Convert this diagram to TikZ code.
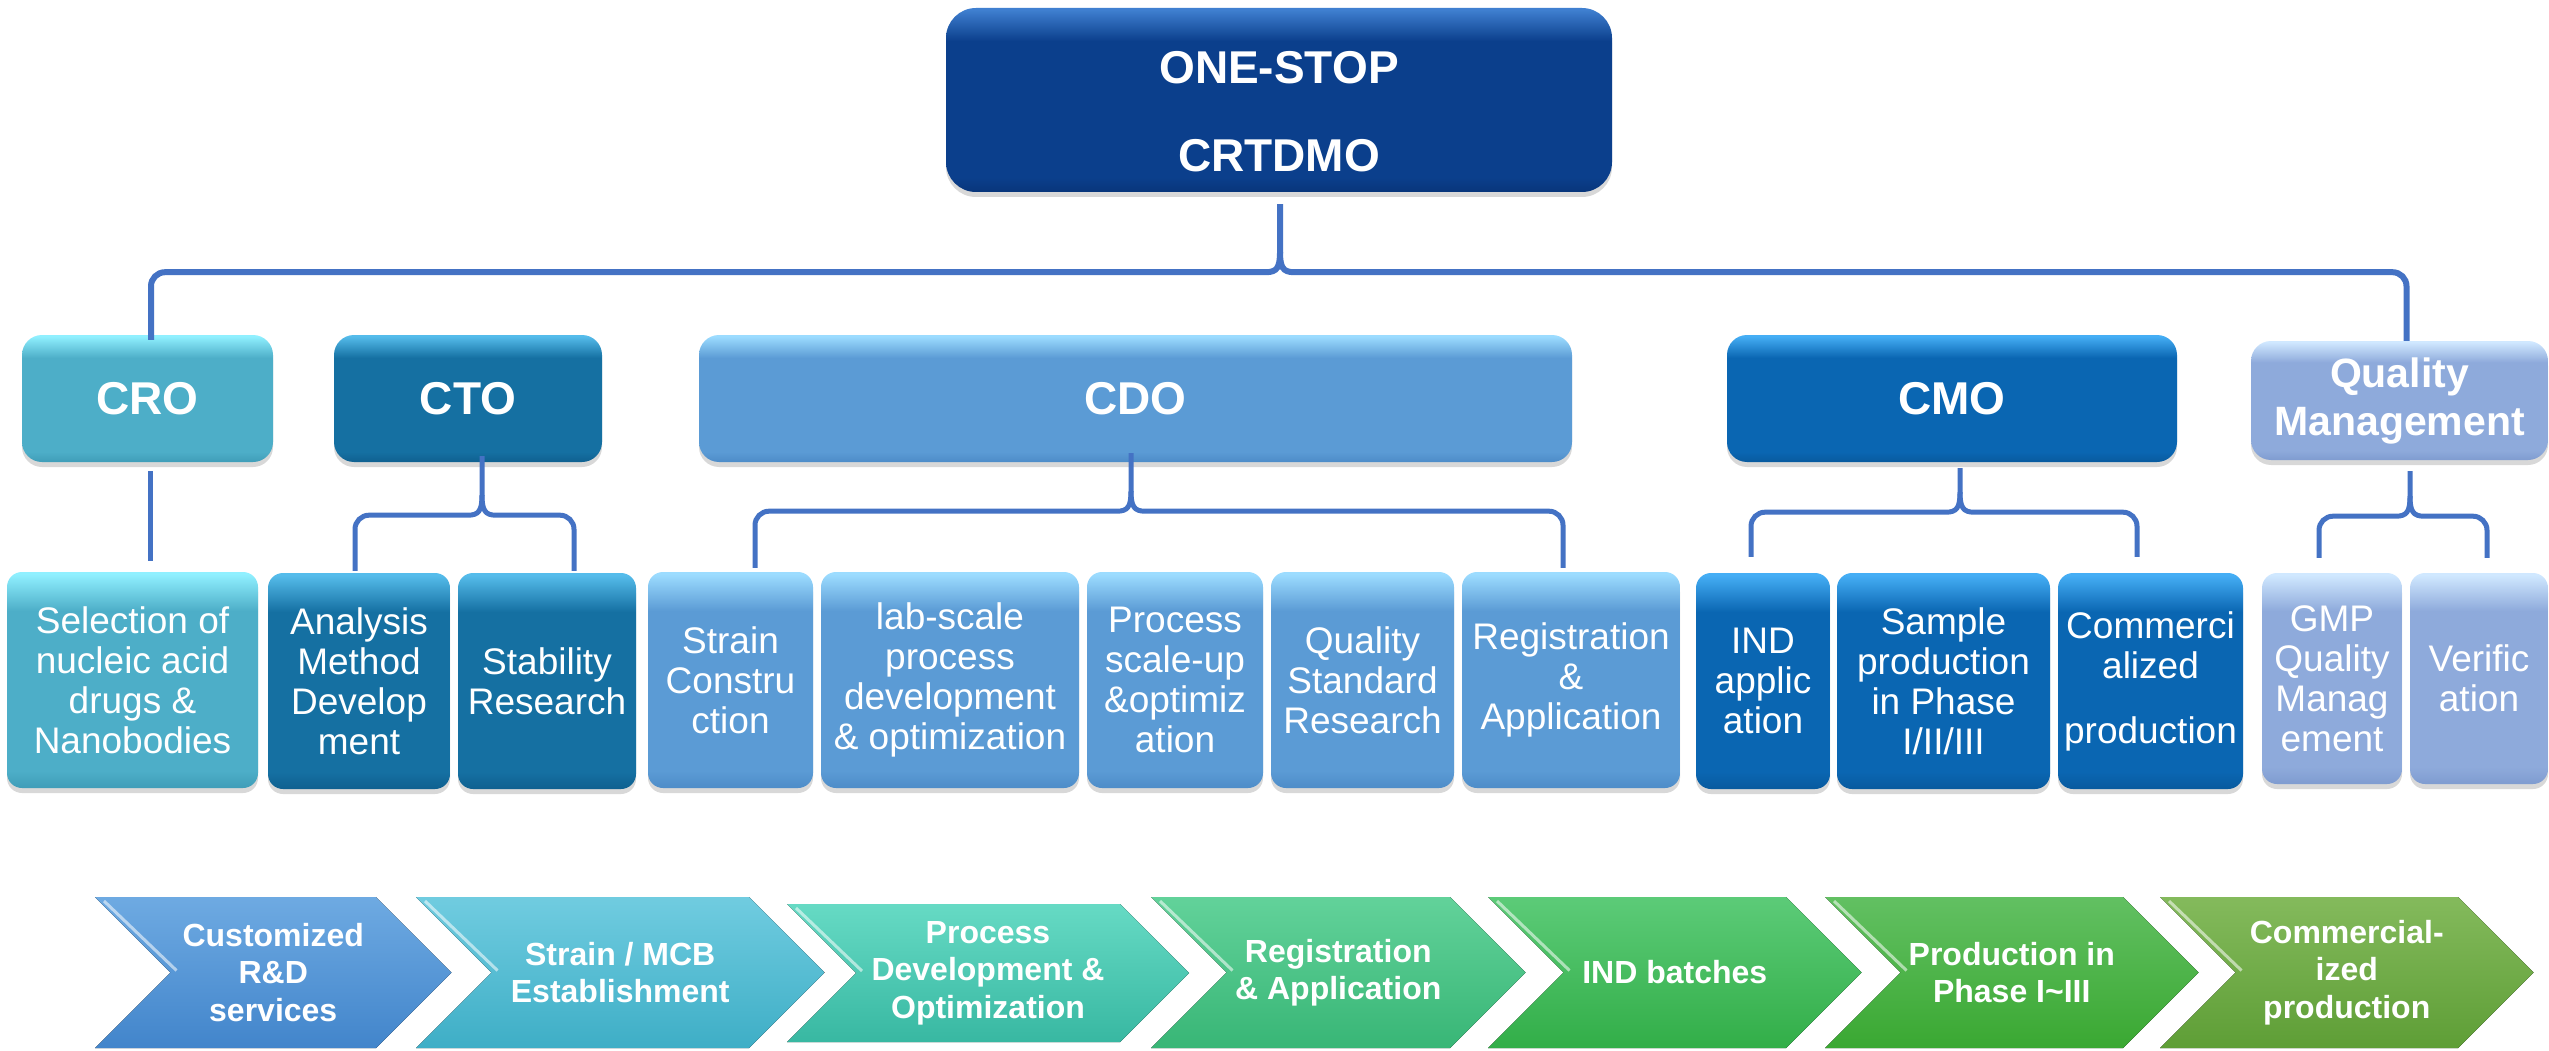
\documentclass[tikz,border=0pt]{standalone}
\usepackage{fontspec}
\setmainfont{Liberation Sans}
\usetikzlibrary{calc,shadows}

\definecolor{conncol}{HTML}{4472C4}
\definecolor{topA}{HTML}{3F7FD0}\definecolor{topB}{HTML}{0B3F8C}\definecolor{topC}{HTML}{08357A}
\definecolor{croA}{HTML}{90F0FF}\definecolor{croB}{HTML}{4DAEC8}\definecolor{croC}{HTML}{3F9DB8}
\definecolor{ctoA}{HTML}{55BCEB}\definecolor{ctoB}{HTML}{1570A2}\definecolor{ctoC}{HTML}{0F6090}
\definecolor{cdoA}{HTML}{9CDCFF}\definecolor{cdoB}{HTML}{5B9BD5}\definecolor{cdoC}{HTML}{4D8CC8}
\definecolor{cmoA}{HTML}{45AEF5}\definecolor{cmoB}{HTML}{0A66B2}\definecolor{cmoC}{HTML}{085A9E}
\definecolor{qmA}{HTML}{D0E8FF}\definecolor{qmB}{HTML}{8EAADB}\definecolor{qmC}{HTML}{7F9CD0}

\definecolor{c1A}{HTML}{6EAAE2}\definecolor{c1B}{HTML}{4285CB}
\definecolor{c2A}{HTML}{70CCE0}\definecolor{c2B}{HTML}{3EAEC6}
\definecolor{c3A}{HTML}{66DAC4}\definecolor{c3B}{HTML}{38B8A2}
\definecolor{c4A}{HTML}{62D29A}\definecolor{c4B}{HTML}{38B676}
\definecolor{c5A}{HTML}{5CCB78}\definecolor{c5B}{HTML}{32AE48}
\definecolor{c6A}{HTML}{62C062}\definecolor{c6B}{HTML}{3AA832}
\definecolor{c7A}{HTML}{84BA5C}\definecolor{c7B}{HTML}{5E9E36}

\colorlet{bvtop}{white}\colorlet{bvmid}{gray}\colorlet{bvbot}{black}
\pgfdeclareverticalshading[bvtop,bvmid,bvbot]{bevel}{100bp}{color(0bp)=(bvbot); color(25bp)=(bvbot); color(29bp)=(bvmid); color(66bp)=(bvmid); color(74.5bp)=(bvtop); color(100bp)=(bvtop)}

\tikzset{
  bv/.style={/utils/exec={\colorlet{bvtop}{#1A}\colorlet{bvmid}{#1B}\colorlet{bvbot}{#1C}}, shade, shading=bevel,
    draw=none, text=white, inner sep=0pt, align=center,
    drop shadow={opacity=0.3, shadow xshift=0pt, shadow yshift=-5pt}},
  topbox/.style={rounded corners=30pt, font=\fontsize{46}{88}\selectfont\bfseries},
  lvtwo/.style={rounded corners=20pt, minimum height=127pt, font=\fontsize{46}{50}\selectfont\bfseries},
  lvthree/.style={rounded corners=15pt, minimum height=216pt, font=\fontsize{37}{40}\selectfont},
  conn/.style={draw=conncol, line width=5pt},
  chevtext/.style={text=white, align=center, inner sep=0pt, font=\fontsize{32}{37.5}\selectfont\bfseries},
}

\newcommand\mybrace[5]{%
  \coordinate (tmpH) at ($(#1)+(0,#4)$);
  \draw[conn] (#1) -- ($(tmpH)+(0,-20)$) .. controls ($(tmpH)+(0,-5)$) and ($(tmpH)+(-3,0)$) .. ($(tmpH)+(-14,0)$) [rounded corners=#5] -| (#2);
  \draw[conn] ($(tmpH)+(0,-20)$) .. controls ($(tmpH)+(0,-5)$) and ($(tmpH)+(3,0)$) .. ($(tmpH)+(14,0)$) [rounded corners=#5] -| (#3);
}

\newcommand\chev[7]{%
  \fill[top color=#5A, bottom color=#5B] (#1,#3) -- (#2,#3) -- ({#2+(#4-#3)/2},{(#3+#4)/2}) -- (#2,#4) -- (#1,#4) -- ({#1+(#4-#3)/2},{(#3+#4)/2}) -- cycle;
  \draw[white, opacity=0.55, line width=3pt] ({#1+9},{#3+4}) -- ({#1+(#4-#3)/2+6},{(#3+#4)/2-2});
  \node[chevtext] (#6) at ({(#1+(#4-#3)/2+#2)/2},{(#3+#4)/2}) {#7};
}

\begin{document}
\begin{tikzpicture}[x=1pt,y=-1pt]
\useasboundingbox[fill=white] (0,0) rectangle (2549,1051);

% top
\node[bv=top, topbox, minimum width=666pt, minimum height=184pt] (top) at (1279,100) {\rule{0pt}{55pt}ONE-STOP\\CRTDMO};

% level two
\node[bv=cro, lvtwo, minimum width=251pt] (cro) at (147.5,398.5) {CRO};
\node[bv=cto, lvtwo, minimum width=268pt] (cto) at (468,398.5) {CTO};
\node[bv=cdo, lvtwo, minimum width=873pt] (cdo) at (1135.5,398.5) {CDO};
\node[bv=cmo, lvtwo, minimum width=450pt] (cmo) at (1952,398.5) {CMO};
\node[bv=qm, lvtwo, minimum width=297pt, minimum height=119pt, font=\fontsize{41}{48}\selectfont\bfseries] (qm) at (2399.5,400.5) {Quality\\Management};

% level three
\node[bv=cro, lvthree, minimum width=251pt] (sel) at (132.5,680) {Selection of\\nucleic acid\\drugs \&\\Nanobodies};
\node[bv=cto, lvthree, minimum width=182pt] (ana) at (359,681) {Analysis\\Method\\Develop\\ment};
\node[bv=cto, lvthree, minimum width=178pt] (stab) at (547,681) {Stability\\Research};
\node[bv=cdo, lvthree, minimum width=165pt] (strain) at (730.5,680) {Strain\\Constru\\ction};
\node[bv=cdo, lvthree, minimum width=258pt] (lab) at (950,680) {lab-scale\\process\\development\\\& optimization};
\node[bv=cdo, lvthree, minimum width=176pt] (scale) at (1175,680) {Process\\scale-up\\\&optimiz\\ation};
\node[bv=cdo, lvthree, minimum width=183pt] (qstd) at (1362.5,680) {Quality\\Standard\\Research};
\node[bv=cdo, lvthree, minimum width=218pt] (reg) at (1571,680) {Registration\\\&\\Application};
\node[bv=cmo, lvthree, minimum width=134pt] (ind) at (1763,681) {IND\\applic\\ation};
\node[bv=cmo, lvthree, minimum width=213pt] (sample) at (1943.5,681) {Sample\\production\\in Phase\\I/II/III};
\node[bv=cmo, lvthree, minimum width=185pt] (comm) at (2150.5,681) {Commerci\\alized\\[25pt]production};
\node[bv=qm, lvthree, minimum width=140pt, minimum height=211pt] (gmp) at (2332,678.5) {GMP\\Quality\\Manag\\ement};
\node[bv=qm, lvthree, minimum width=138pt, minimum height=211pt] (ver) at (2479,678.5) {Verific\\ation};

% connectors
\coordinate (s0) at ($(top.south)+(1,12)$);
\coordinate (l0) at ($(cro.north)+(3.5,5)$);
\coordinate (r0) at ($(qm.north)+(7,0)$);
\begin{scope}[conn/.append style={line width=6pt}]
\mybrace{s0}{l0}{r0}{68}{14}
\end{scope}

\coordinate (s1) at ($(cto.south)+(14,-6)$);
\coordinate (l1) at ($(ana.north)+(-4,-2)$);
\coordinate (r1) at ($(stab.north)+(27,-2)$);
\mybrace{s1}{l1}{r1}{59}{14}

\coordinate (s2) at ($(cdo.south)+(-4.5,-9)$);
\coordinate (l2) at ($(strain.north)+(24.5,-4)$);
\coordinate (r2) at ($(reg.north)+(-8,-4)$);
\mybrace{s2}{l2}{r2}{58}{14}

\coordinate (s3) at ($(cmo.south)+(8,6)$);
\coordinate (l3) at ($(ind.north)+(-12,-16)$);
\coordinate (r3) at ($(comm.north)+(-13.5,-16)$);
\mybrace{s3}{l3}{r3}{44}{14}

\coordinate (s4) at ($(qm.south)+(10.5,11)$);
\coordinate (l4) at ($(gmp.north)+(-13,-15)$);
\coordinate (r4) at ($(ver.north)+(8,-15)$);
\mybrace{s4}{l4}{r4}{45}{14}

\coordinate (s5) at ($(cro.south)+(2.5,9)$);
\draw[conn] (s5) -- ($(s5 |- sel.north)+(0,-11)$);

% chevrons
\chev{95}{376}{897}{1048}{c1}{ch1}{Customized\\R\&D\\services}
\chev{416}{749}{897}{1048}{c2}{ch2}{Strain / MCB\\Establishment}
\chev{787}{1120}{904}{1042}{c3}{ch3}{Process\\Development \&\\Optimization}
\chev{1151}{1450}{897}{1048}{c4}{ch4}{Registration\\\& Application}
\chev{1488}{1786}{897}{1048}{c5}{ch5}{IND batches}
\chev{1825}{2123}{897}{1048}{c6}{ch6}{Production in\\Phase I\textasciitilde III}
\chev{2160}{2458}{897}{1048}{c7}{ch7}{Commercial-\\ized\\production}
\end{tikzpicture}
\end{document}
